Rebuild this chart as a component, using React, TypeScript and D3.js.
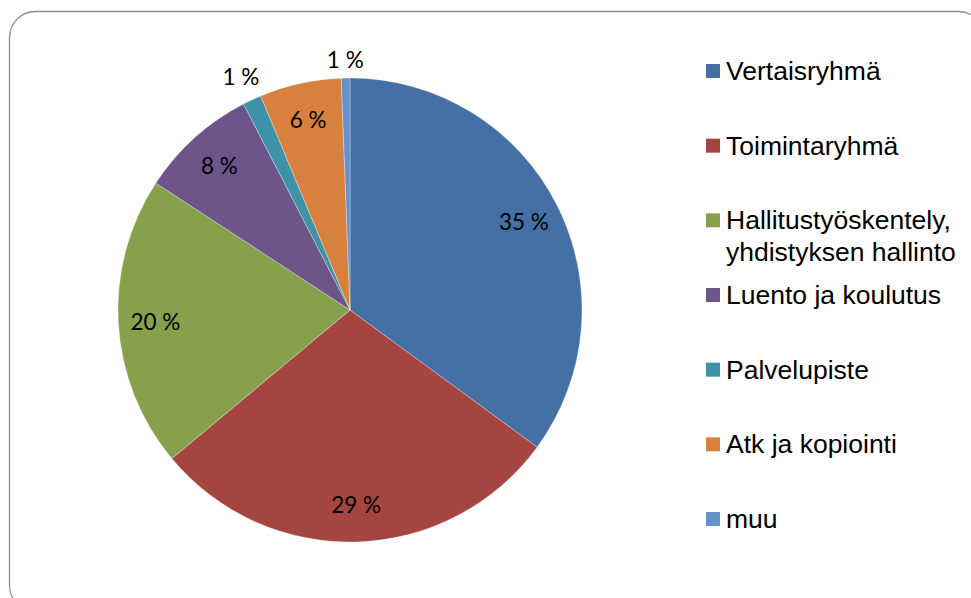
import React from "react";
import * as d3 from "d3";

const categories = [
  "Vertaisryhmä",
  "Toimintaryhmä",
  "Hallitustyöskentely, yhdistyksen hallinto",
  "Luento ja koulutus",
  "Palvelupiste",
  "Atk ja kopiointi",
  "muu",
];
const values = [35.1, 28.9, 20.3, 8.2, 1.3, 5.7, 0.6];
const colors = ["#4470A5", "#A44542", "#87A04C", "#6D5589", "#3F93A8", "#D8813E", "#6491CB"];
const legendLines = [
  ["Vertaisryhmä"],
  ["Toimintaryhmä"],
  ["Hallitustyöskentely,", "yhdistyksen hallinto"],
  ["Luento ja koulutus"],
  ["Palvelupiste"],
  ["Atk ja kopiointi"],
  ["muu"],
];

export default function App() {
  const W = 971, H = 598;
  const cx = 350, cy = 310, R = 232;
  const pie = d3.pie<number>().sort(null).value((d) => d);
  const arcs = pie(values);
  const arc = d3.arc<d3.PieArcDatum<number>>().innerRadius(0).outerRadius(R);
  const legendY = d3.scalePoint<number>().domain(d3.range(categories.length)).range([71, 519]);
  const total = d3.sum(values);
  return (
    <svg width={W} height={H} style={{ position: "absolute", left: 0, top: 0 }}>
      <rect x={0} y={0} width={W} height={H} fill="#fff" />
      <rect x={9.5} y={11.5} width={975} height={600} rx={26} fill="#fff" stroke="#8c8c8c" strokeWidth={1.3} />
      <g transform={`translate(${cx},${cy})`}>
        {arcs.map((a, i) => (
          <path key={i} d={arc(a) || ""} fill={colors[i]} stroke="#fff" strokeWidth={0.6} strokeOpacity={0.5} />
        ))}
        {arcs.map((a, i) => {
          const mid = (a.startAngle + a.endAngle) / 2;
          const outside = values[i] / total < 0.02;
          const r = outside ? (i === 4 ? 258 : 251) : 195;
          const x = Math.sin(mid) * r;
          const y = -Math.cos(mid) * r;
          return (
            <text key={i} x={x} y={y} textAnchor="middle" dominantBaseline="central"
              fontFamily="Lato, 'Open Sans', sans-serif" fontSize={22.5} fill="#000">
              {`${Math.round((values[i] / total) * 100)} %`}
            </text>
          );
        })}
      </g>
      <g fontFamily="'Liberation Sans', Arial, sans-serif" fontSize={26.5} fill="#000">
        {categories.map((c, i) => {
          const y = legendY(i)!;
          return (
            <g key={c}>
              <rect x={706} y={y - 7} width={14} height={14} fill={colors[i]} />
              {legendLines[i].map((ln, j) => (
                <text key={j} x={726} y={y + j * 32} dominantBaseline="central">{ln}</text>
              ))}
            </g>
          );
        })}
      </g>
    </svg>
  );
}
